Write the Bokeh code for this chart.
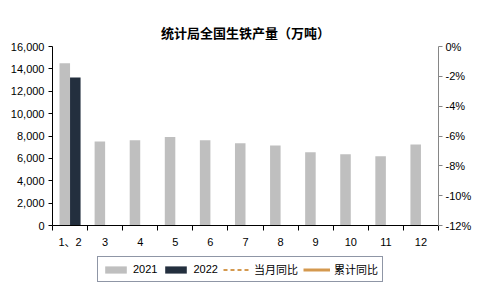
import numpy as np
from bokeh.plotting import figure
from bokeh.layouts import column
from bokeh.models import (ColumnDataSource, Range1d, LinearAxis, FixedTicker,
                          NumeralTickFormatter, Legend, LegendItem)
from bokeh.transform import dodge
from bokeh.embed import file_html
from bokeh.resources import INLINE

categories = ["1、2", "3", "4", "5", "6", "7", "8", "9", "10", "11", "12"]
output_2021 = [14500, 7510, 7630, 7900, 7630, 7360, 7160, 6540, 6370, 6190, 7250]
output_2022 = [13230]
monthly_yoy = [float("nan")]      # 当月同比: no visible line in the picture
cumulative_yoy = [float("nan")]   # 累计同比: no visible line in the picture
series_names = ["2021", "2022", "当月同比", "累计同比"]
left_ticks = [0, 2000, 4000, 6000, 8000, 10000, 12000, 14000, 16000]
right_ticks = [-12, -10, -8, -6, -4, -2, 0]

GREY = "#bfbfbf"
NAVY = "#232f3e"
ORANGE = "#d4994f"
FONT = "Liberation Sans, Noto Sans CJK SC"

n = len(categories)
centers = list(np.arange(n) + 0.5)

src21 = ColumnDataSource(dict(x=centers, y=output_2021))
src22 = ColumnDataSource(dict(x=centers[:len(output_2022)], y=output_2022))
src_m = ColumnDataSource(dict(x=centers[:len(monthly_yoy)], y=monthly_yoy))
src_c = ColumnDataSource(dict(x=centers[:len(cumulative_yoy)], y=cumulative_yoy))

p = figure(width=481, height=250, output_backend="svg", toolbar_location=None,
           x_range=Range1d(0, n), y_range=Range1d(0, 16000),
           min_border_left=52, min_border_right=43, min_border_top=46,
           min_border_bottom=23)
p.title.text = "统计局全国生铁产量（万吨）"
p.title.align = "center"
p.title.text_font = "Noto Sans CJK SC"
p.title.text_font_size = "13px"
p.title.text_font_style = "bold"
p.title.text_color = "#000000"
p.outline_line_color = None
p.xgrid.visible = False
p.ygrid.visible = False
p.background_fill_color = "white"
p.border_fill_color = "white"

p.extra_y_ranges = {"pct": Range1d(-12, 0)}

p.vbar(x=dodge("x", -0.15), top="y", width=0.3, source=src21,
       fill_color=GREY, line_color=None)
p.vbar(x=dodge("x", 0.15), top="y", width=0.3, source=src22,
       fill_color=NAVY, line_color=None)
p.line(x="x", y="y", source=src_m, y_range_name="pct",
       line_color=ORANGE, line_width=2, line_dash="4 3")
p.line(x="x", y="y", source=src_c, y_range_name="pct",
       line_color=ORANGE, line_width=3)

# x axis: labels at category centers, tick marks at category boundaries
xa = p.xaxis[0]
xa.ticker = FixedTicker(ticks=centers, minor_ticks=list(range(n + 1)))
xa.major_label_overrides = {c: lab for c, lab in zip(centers, categories)}
xa.major_tick_out = 0
xa.major_tick_in = 0
xa.minor_tick_out = 5
xa.minor_tick_in = 0
xa.minor_tick_line_color = "#000000"
xa.axis_line_color = "#000000"
xa.major_label_text_font = FONT
xa.major_label_text_font_size = "11px"
xa.major_label_text_color = "#000000"
xa.major_label_standoff = 5

ya = p.yaxis[0]
ya.ticker = FixedTicker(ticks=left_ticks)
ya.formatter = NumeralTickFormatter(format="0,0")
ya.major_tick_out = 4
ya.major_tick_in = 0
ya.minor_tick_line_color = None
ya.axis_line_color = "#000000"
ya.major_tick_line_color = "#000000"
ya.major_label_text_font = FONT
ya.major_label_text_font_size = "11px"
ya.major_label_text_color = "#000000"
ya.major_label_standoff = 4

ra = LinearAxis(y_range_name="pct", ticker=FixedTicker(ticks=right_ticks),
                major_label_overrides={t: f"{t}%" for t in right_ticks})
ra.major_tick_out = 4
ra.major_tick_in = 0
ra.minor_tick_line_color = None
ra.axis_line_color = "#868686"
ra.major_tick_line_color = "#868686"
ra.major_label_text_font = FONT
ra.major_label_text_font_size = "11px"
ra.major_label_text_color = "#000000"
ra.major_label_standoff = 3
p.add_layout(ra, "right")

# legend strip below the chart
lg = figure(width=481, height=40, output_backend="svg", toolbar_location=None,
            x_range=Range1d(0, 1), y_range=Range1d(0, 1),
            min_border=0, min_border_left=0, min_border_right=0,
            min_border_top=0, min_border_bottom=0)
lg.axis.visible = False
lg.grid.visible = False
lg.outline_line_color = None
lg.border_fill_color = "white"
lg.background_fill_color = "white"
nan = [float("nan")]
s21 = lg.vbar(x=nan, top=nan, width=0.3, fill_color=GREY, line_color=None)
s22 = lg.vbar(x=nan, top=nan, width=0.3, fill_color=NAVY, line_color=None)
sm = lg.line(x=nan, y=nan, line_color=ORANGE, line_width=2, line_dash="4 3")
sc = lg.line(x=nan, y=nan, line_color=ORANGE, line_width=3)

legend = Legend(items=[LegendItem(label=nm, renderers=[r])
                       for nm, r in zip(series_names, [s21, s22, sm, sc])],
                orientation="horizontal", location=(45, 8))
legend.glyph_width = 27
legend.glyph_height = 9
legend.label_standoff = 4
legend.spacing = 5
legend.padding = 4
legend.margin = 0
legend.border_line_color = "#1f2d4d"
legend.border_line_width = 1
legend.label_text_font = FONT
legend.label_text_font_size = "11px"
legend.label_text_color = "#000000"
legend.background_fill_color = "white"
legend.background_fill_alpha = 1
legend.label_height = 12
lg.add_layout(legend, "center")

layout = column(p, lg, spacing=0)
open("out.html", "w").write(file_html(layout, INLINE))
